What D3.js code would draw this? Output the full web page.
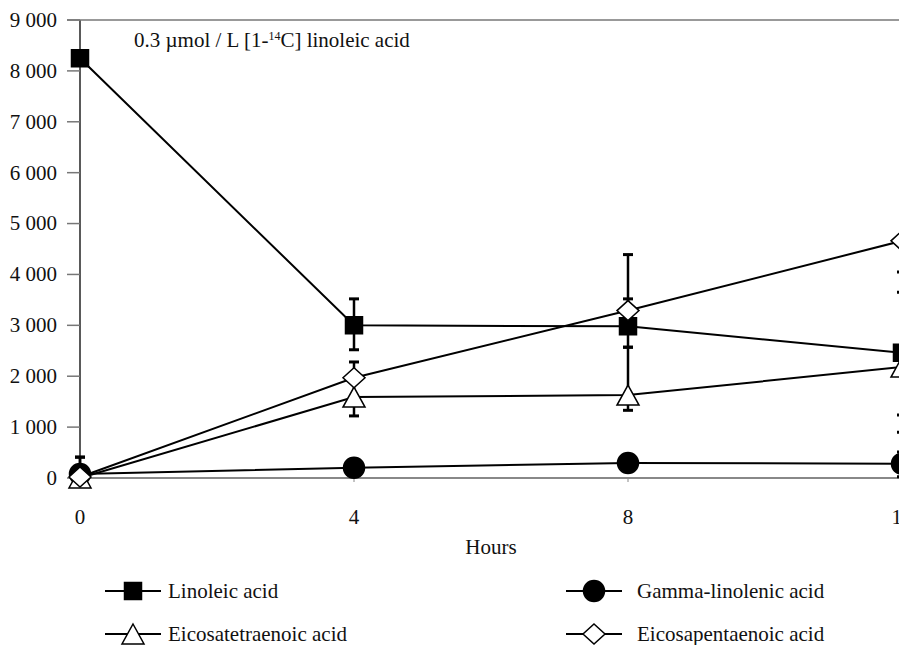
<!DOCTYPE html>
<html>
<head>
<meta charset="utf-8">
<script src="https://cdn.jsdelivr.net/npm/d3@7"></script>
<style>
  body { margin: 0; background: #fff; }
  svg { display: block; font-family: "Liberation Serif", "Times New Roman", serif; }
</style>
</head>
<body>
<div id="chart"></div>
<script>
// data
const hours = [0, 4, 8, 12];
const yTicks = [0, 1000, 2000, 3000, 4000, 5000, 6000, 7000, 8000, 9000];

const linoleic = [8250, 3000, 2980, 2460];
const linoleicUp = [0, 520, 540, 1190];
const linoleicDown = [0, 480, 410, 1220];

const gammaLin = [80, 200, 295, 280];
const gammaUp = [330, 0, 0, 230];
const gammaDown = [0, 0, 0, 255];

const eicosatetra = [0, 1590, 1630, 2180];
const eicosatetraUp = [0, 370, 940, 0];
const eicosatetraDown = [0, 370, 300, 1280];

const eicosapenta = [20, 1970, 3290, 4660];
const eicosapentaUp = [390, 310, 1100, 0];
const eicosapentaDown = [0, 0, 0, 610];

const seriesNames = ["Linoleic acid", "Gamma-linolenic acid", "Eicosatetraenoic acid", "Eicosapentaenoic acid"];

const series = [
  {name: seriesNames[0], vals: linoleic, up: linoleicUp, down: linoleicDown, marker: "square"},
  {name: seriesNames[1], vals: gammaLin, up: gammaUp, down: gammaDown, marker: "circle"},
  {name: seriesNames[2], vals: eicosatetra, up: eicosatetraUp, down: eicosatetraDown, marker: "triangle"},
  {name: seriesNames[3], vals: eicosapenta, up: eicosapentaUp, down: eicosapentaDown, marker: "diamond"}
];

const W = 899, H = 645;
const FS = 21;
const svg = d3.select("#chart").append("svg").attr("width", W).attr("height", H);

// the 12 h point sits just past the right edge, as in the original
const x = d3.scaleLinear().domain([0, 12]).range([80, 902]);
const y = d3.scaleLinear().domain([0, 9000]).range([478, 20]);

// marker shapes, centred on their bounding box
function markerPath(type) {
  switch (type) {
    case "square": return "M-8.5,-8.5H8.5V8.5H-8.5Z";
    case "circle": return d3.symbol(d3.symbolCircle, Math.PI * 10.5 * 10.5)();
    case "triangle": return "M0,-10L11,10L-11,10Z";
    case "diamond": return "M0,-10L11,0L0,10L-11,0Z";
  }
}
function markerFill(type) {
  return (type === "square" || type === "circle") ? "#000" : "#fff";
}

// y axis
const yAxis = svg.append("g");
yAxis.append("line").attr("x1", x(0)).attr("x2", x(0)).attr("y1", y(9000)).attr("y2", y(0))
  .attr("stroke", "#000").attr("stroke-width", 1.3);
yAxis.selectAll("line.tick").data(yTicks).enter().append("line")
  .attr("x1", 67).attr("x2", x(0)).attr("y1", d => y(d)).attr("y2", d => y(d))
  .attr("stroke", "#777").attr("stroke-width", 1.5);
yAxis.selectAll("text").data(yTicks).enter().append("text")
  .attr("x", 57).attr("y", d => y(d)).attr("dy", "0.33em")
  .attr("text-anchor", "end").attr("font-size", FS).attr("fill", "#111")
  .text(d => d === 0 ? "0" : d3.format(",")(d).replace(",", " "));

// top border line and x axis line
svg.append("line").attr("x1", 67).attr("x2", W).attr("y1", y(9000)).attr("y2", y(9000))
  .attr("stroke", "#777").attr("stroke-width", 1.5);
svg.append("line").attr("x1", x(0)).attr("x2", W).attr("y1", y(0)).attr("y2", y(0))
  .attr("stroke", "#888").attr("stroke-width", 2);
svg.selectAll("line.xtick").data(hours).enter().append("line")
  .attr("x1", d => x(d)).attr("x2", d => x(d)).attr("y1", y(0)).attr("y2", y(0) + 4)
  .attr("stroke", "#888").attr("stroke-width", 1);
svg.selectAll("text.xlab").data(hours).enter().append("text")
  .attr("x", d => x(d)).attr("y", 517).attr("dy", "0.33em")
  .attr("text-anchor", "middle").attr("font-size", FS).attr("fill", "#111")
  .text(d => d);
svg.append("text").attr("x", 491).attr("y", 547).attr("dy", "0.33em")
  .attr("text-anchor", "middle").attr("font-size", FS).attr("fill", "#111").text("Hours");

// annotation
const note = svg.append("text").attr("x", 134).attr("y", 47).attr("font-size", FS).attr("fill", "#111");
note.append("tspan").text("0.3 \u00b5mol / L [1-");
note.append("tspan").attr("font-size", 12).attr("dy", -7).text("14");
note.append("tspan").attr("dy", 7).text("C] linoleic acid");

// lines
const line = d3.line().x((d, i) => x(hours[i])).y(d => y(d));
svg.append("g").selectAll("path").data(series).enter().append("path")
  .attr("d", s => line(s.vals)).attr("fill", "none").attr("stroke", "#000").attr("stroke-width", 2);

// error bars
const eb = svg.append("g").attr("stroke", "#000");
series.forEach(s => {
  s.vals.forEach((v, i) => {
    const cx = x(hours[i]);
    [[s.up[i], 1], [s.down[i], -1]].forEach(([e, dir]) => {
      if (!e) return;
      const yy = y(v + dir * e);
      eb.append("line").attr("x1", cx).attr("x2", cx).attr("y1", y(v)).attr("y2", yy).attr("stroke-width", 2.5);
      eb.append("line").attr("x1", cx - 5).attr("x2", cx + 5).attr("y1", yy).attr("y2", yy).attr("stroke-width", 3);
    });
  });
});

// markers
series.forEach(s => {
  svg.append("g").selectAll("path").data(s.vals).enter().append("path")
    .attr("d", markerPath(s.marker))
    .attr("transform", (d, i) => `translate(${x(hours[i])},${y(d)})`)
    .attr("fill", markerFill(s.marker)).attr("stroke", "#000").attr("stroke-width", 1.5);
});

// legend
const legendPos = [[105, 591], [566, 591], [105, 634], [566, 634]];
series.forEach((s, i) => {
  const [lx, ly] = legendPos[i];
  const g = svg.append("g").attr("transform", `translate(${lx},${ly})`);
  g.append("line").attr("x1", 0).attr("x2", 56).attr("y1", 0).attr("y2", 0).attr("stroke", "#000").attr("stroke-width", 2);
  g.append("path").attr("d", markerPath(s.marker)).attr("transform", "translate(28,0)")
    .attr("fill", markerFill(s.marker)).attr("stroke", "#000").attr("stroke-width", 1.5);
  g.append("text").attr("x", i % 2 === 0 ? 63 : 71).attr("y", 0).attr("dy", "0.33em")
    .attr("font-size", FS).attr("fill", "#111").text(s.name);
});
</script>
</body>
</html>
